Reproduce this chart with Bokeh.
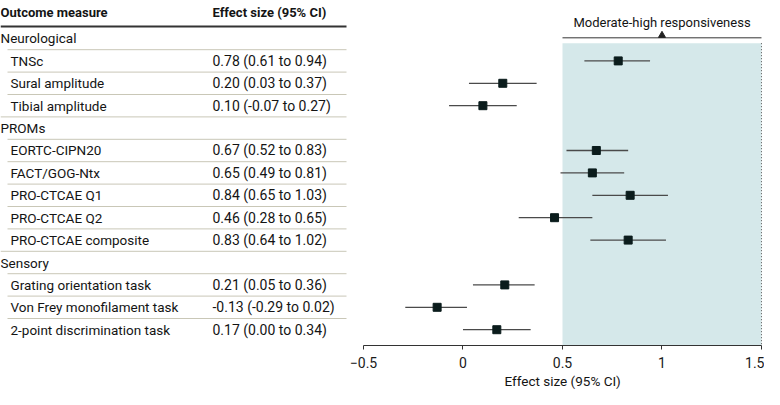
from bokeh.plotting import figure
from bokeh.models import Range1d, FixedTicker, ColumnDataSource, Title
from bokeh.core.properties import value
from bokeh.embed import file_html
from bokeh.resources import INLINE

# ---- data ----
groups = ["Neurological", "PROMs", "Sensory"]
measures = ["TNSc", "Sural amplitude", "Tibial amplitude",
            "EORTC-CIPN20", "FACT/GOG-Ntx", "PRO-CTCAE Q1", "PRO-CTCAE Q2", "PRO-CTCAE composite",
            "Grating orientation task", "Von Frey monofilament task", "2-point discrimination task"]
measure_group = [0, 0, 0, 1, 1, 1, 1, 1, 2, 2, 2]
effect = [0.78, 0.20, 0.10, 0.67, 0.65, 0.84, 0.46, 0.83, 0.21, -0.13, 0.17]
lower = [0.61, 0.03, -0.07, 0.52, 0.49, 0.65, 0.28, 0.64, 0.05, -0.29, 0.00]
upper = [0.94, 0.37, 0.27, 0.83, 0.81, 1.03, 0.65, 1.02, 0.36, 0.02, 0.34]
tick_values = [-0.5, 0, 0.5, 1.0, 1.5]
threshold = 0.5
x_max = 1.5
band_label = "Moderate-high responsiveness"
col_headers = ["Outcome measure", "Effect size (95% CI)"]
x_title = "Effect size (95% CI)"

# ---- row layout ----
group_rows, meas_rows = [], []
r = 0
for gi, g in enumerate(groups):
    group_rows.append(r)
    r += 1
    for mg in measure_group:
        if mg == gi:
            meas_rows.append(r)
            r += 1
n_rows = r

FONT = value("Roboto")
TXT = "#141414"

W, H = 764, 389
p = figure(width=W, height=H, output_backend="svg", toolbar_location=None,
           x_range=Range1d(-2.3241, 1.5151), y_range=Range1d(13.705, -1.696),
           y_axis_location=None, min_border_left=0, min_border_right=0,
           min_border_top=0, min_border_bottom=44)
p.extra_x_ranges = {"tbl": Range1d(0, 764)}
p.outline_line_color = None
p.grid.visible = False
p.background_fill_color = "white"
p.border_fill_color = "white"

# table header
p.text(x=[0, 212], y=[-1.161, -1.161], text=col_headers, x_range_name="tbl",
       text_font=FONT, text_font_size="13px", text_font_style="bold",
       text_color=TXT, text_baseline="middle")
p.segment(x0=[0], x1=[346], y0=[-0.536], y1=[-0.536], x_range_name="tbl",
          line_color="#333333", line_width=2)

# table body
p.text(x=[0] * len(groups), y=group_rows, text=groups, x_range_name="tbl",
       text_font=FONT, text_font_size="13.5px", text_color=TXT, text_baseline="middle")
p.text(x=[10] * len(measures), y=meas_rows, text=measures, x_range_name="tbl",
       text_font=FONT, text_font_size="13.5px", text_color=TXT, text_baseline="middle")
ci_labels = [f"{e:.2f} ({l:.2f} to {u:.2f})" for e, l, u in zip(effect, lower, upper)]
p.text(x=[212] * len(measures), y=meas_rows, text=ci_labels, x_range_name="tbl",
       text_font=FONT, text_font_size="14px", text_color=TXT, text_baseline="middle")

# row separators
sep_y, sep_x0 = [], []
for row in range(n_rows - 1):
    sep_y.append(row + 0.5)
    last_of_group = (row in meas_rows) and (row + 1 in group_rows)
    sep_x0.append(0 if last_of_group else 7)
p.segment(x0=sep_x0, x1=[346] * len(sep_y), y0=sep_y, y1=sep_y, x_range_name="tbl",
          line_color="#c9c7b7", line_width=1)

# shaded band
p.quad(left=[threshold], right=[x_max], top=[0.21], bottom=[20],
       fill_color="#d5e8ea", line_color=None)
p.segment(x0=[x_max], x1=[x_max], y0=[0.21], y1=[20], line_color="#555555",
          line_width=1, line_dash="1 2")
p.segment(x0=[threshold], x1=[x_max], y0=[-0.03], y1=[-0.03], line_color="#333333", line_width=1)
p.scatter(x=[(threshold + x_max) / 2], y=[-0.14], marker="triangle", size=7,
          fill_color="#222222", line_color="#222222")
p.text(x=[(threshold + x_max) / 2], y=[-0.73], text=[band_label], text_font=FONT,
       text_font_size="13px", text_color=TXT, text_align="center", text_baseline="middle")

# forest
src = ColumnDataSource(dict(y=meas_rows, e=effect, lo=lower, hi=upper))
p.segment(x0="lo", x1="hi", y0="y", y1="y", source=src, line_color="#4a4a4a", line_width=1.3)
p.scatter(x="e", y="y", source=src, marker="square", size=8,
          fill_color="#0b1c1c", line_color="#0b1c1c")

# axis
ax = p.xaxis[0]
ax.bounds = (tick_values[0], tick_values[-1])
ax.ticker = FixedTicker(ticks=tick_values)
ax.major_label_overrides = {0: "0"}
ax.minor_tick_line_color = None
ax.major_tick_in = 0
ax.major_tick_out = 4
ax.axis_line_color = "#333333"
ax.major_tick_line_color = "#333333"
ax.major_label_text_font = "Roboto"
ax.major_label_text_font_size = "14px"
ax.major_label_text_color = "#1a1a1a"
ax.major_label_standoff = 7

# axis title, centred under the axis bounds (x = 0.5 -> about 562 px)
p.add_layout(Title(text=x_title, align="left", offset=504, standoff=0,
                   text_font="Roboto", text_font_size="13.5px", text_font_style="normal",
                   text_color=TXT), "below")

open("out.html", "w").write(file_html(p, INLINE))
